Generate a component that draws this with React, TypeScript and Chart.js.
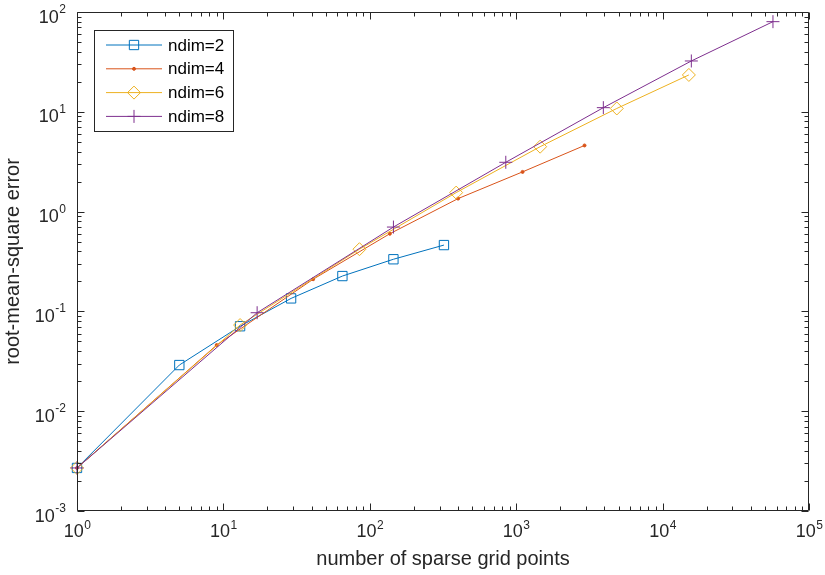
import React, { useEffect, useRef } from 'react';
import { Chart, registerables } from 'chart.js';
import { drawPoint } from 'chart.js/helpers';

Chart.register(...registerables);

// ---- data ----
const seriesNames = ['ndim=2', 'ndim=4', 'ndim=6', 'ndim=8'];
const x2 = [1, 5, 13, 29, 65, 145, 321];
const y2 = [0.0027, 0.029, 0.071, 0.135, 0.226, 0.333, 0.462];
const x4 = [1, 9, 41, 137, 401, 1105, 2929];
const y4 = [0.0027, 0.046, 0.21, 0.6, 1.35, 2.5, 4.6];
const x6 = [1, 13, 85, 389, 1457, 4865, 15121];
const y6 = [0.0027, 0.073, 0.42, 1.55, 4.47, 10.8, 23.4];
const x8 = [1, 17, 145, 849, 3937, 15713, 56737];
const y8 = [0.0027, 0.097, 0.7, 3.12, 11.0, 32.3, 80];
const xTickExps = [0, 1, 2, 3, 4, 5];
const yTickExps = [-3, -2, -1, 0, 1, 2];
const xLabel = 'number of sparse grid points';
const yLabel = 'root-mean-square error';

const colors = ['#0072BD', '#D95319', '#EDB120', '#7E2F8E'];
const axisColor = '#262626';
const FONT = '"Liberation Sans", Arial, Helvetica, sans-serif';

const toPts = (xs: number[], ys: number[]) => xs.map((x, i) => ({ x, y: ys[i] }));

const matlabAxes = {
  id: 'matlabAxes',
  afterDraw(chart: any) {
    const { ctx, chartArea: a, scales } = chart;
    const xs = scales.x;
    const ys = scales.y;
    ctx.save();
    ctx.strokeStyle = axisColor;
    ctx.lineWidth = 1;
    const L = Math.round(a.left) + 0.5;
    const R = Math.round(a.right) - 0.5;
    const T = Math.round(a.top) + 0.5;
    const B = Math.round(a.bottom) - 0.5;
    ctx.beginPath();
    ctx.rect(L, T, R - L, B - T);
    ctx.stroke();
    const major = 7;
    const minor = 4;
    ctx.beginPath();
    for (let i = 0; i < xTickExps.length; i++) {
      const e = xTickExps[i];
      for (let m = 1; m <= 9; m++) {
        if (m > 1 && i === xTickExps.length - 1) break;
        const v = m * Math.pow(10, e);
        const px = Math.round(xs.getPixelForValue(v)) + 0.5;
        const len = m === 1 ? major : minor;
        ctx.moveTo(px, B);
        ctx.lineTo(px, B - len);
        ctx.moveTo(px, T);
        ctx.lineTo(px, T + len);
      }
    }
    for (let i = 0; i < yTickExps.length; i++) {
      const e = yTickExps[i];
      for (let m = 1; m <= 9; m++) {
        if (m > 1 && i === yTickExps.length - 1) break;
        const v = m * Math.pow(10, e);
        const py = Math.round(ys.getPixelForValue(v)) + 0.5;
        const len = m === 1 ? major : minor;
        ctx.moveTo(L, py);
        ctx.lineTo(L + len, py);
        ctx.moveTo(R, py);
        ctx.lineTo(R - len, py);
      }
    }
    ctx.stroke();

    const baseFont = `18px ${FONT}`;
    const expFont = `12px ${FONT}`;
    ctx.fillStyle = axisColor;
    ctx.textBaseline = 'alphabetic';
    ctx.textAlign = 'left';
    xTickExps.forEach((e) => {
      const px = xs.getPixelForValue(Math.pow(10, e));
      ctx.font = baseFont;
      const w1 = ctx.measureText('10').width;
      ctx.font = expFont;
      const w2 = ctx.measureText(String(e)).width;
      const x0 = px - (w1 + w2) / 2;
      ctx.font = baseFont;
      ctx.fillText('10', x0, a.bottom + 26);
      ctx.font = expFont;
      ctx.fillText(String(e), x0 + w1 + 0.5, a.bottom + 18);
    });
    yTickExps.forEach((e) => {
      const py = ys.getPixelForValue(Math.pow(10, e));
      ctx.font = expFont;
      const w2 = ctx.measureText(String(e)).width;
      ctx.font = baseFont;
      const w1 = ctx.measureText('10').width;
      const xr = a.left - 11;
      ctx.fillText('10', xr - w2 - w1 - 0.5, py + 10.5);
      ctx.font = expFont;
      ctx.fillText(String(e), xr - w2, py + 1);
    });

    // legend
    const lx = 94.5, ly = 30.5, lw = 139, lh = 101;
    ctx.fillStyle = '#ffffff';
    ctx.fillRect(lx, ly, lw, lh);
    ctx.strokeStyle = axisColor;
    ctx.lineWidth = 1;
    ctx.strokeRect(lx, ly, lw, lh);
    chart.data.datasets.forEach((ds: any, i: number) => {
      const cy = 45 + i * 23.8;
      ctx.strokeStyle = ds.borderColor;
      ctx.lineWidth = 1;
      ctx.beginPath();
      ctx.moveTo(106, cy);
      ctx.lineTo(162, cy);
      ctx.stroke();
      ctx.fillStyle = ds.pointBackgroundColor;
      ctx.strokeStyle = ds.pointBorderColor;
      drawPoint(ctx, {
        pointStyle: ds.pointStyle,
        radius: ds.pointRadius,
        borderWidth: ds.pointBorderWidth,
        rotation: 0,
      } as any, 134, cy);
      ctx.fillStyle = '#000000';
      ctx.font = `17px ${FONT}`;
      ctx.textBaseline = 'middle';
      ctx.textAlign = 'left';
      ctx.fillText(ds.label, 168, cy + 1);
    });
    ctx.restore();
  },
};

export default function App() {
  const ref = useRef<HTMLCanvasElement>(null);
  useEffect(() => {
    const canvas = ref.current!;
    const mk = (i: number, xs: number[], ys: number[], style: string, radius: number, filled: boolean) => ({
      label: seriesNames[i],
      data: toPts(xs, ys),
      borderColor: colors[i],
      backgroundColor: colors[i],
      borderWidth: 1,
      pointStyle: style,
      pointRadius: radius,
      pointHoverRadius: radius,
      pointBorderWidth: 1,
      pointBorderColor: colors[i],
      pointBackgroundColor: filled ? colors[i] : 'rgba(0,0,0,0)',
      showLine: true,
      tension: 0,
      fill: false,
      clip: false,
      order: 3 - i,
    });
    const chart = new Chart(canvas, {
      type: 'line',
      data: {
        datasets: [
          mk(0, x2, y2, 'rect', 6.6, false),
          mk(1, x4, y4, 'circle', 1.5, true),
          mk(2, x6, y6, 'rectRot', 6.5, false),
          mk(3, x8, y8, 'cross', 6.5, false),
        ] as any,
      },
      options: {
        responsive: false,
        animation: false,
        devicePixelRatio: 1,
        layout: { padding: { left: 0, top: 12, right: 16, bottom: 0 } },
        plugins: { legend: { display: false }, tooltip: { enabled: false } },
        scales: {
          x: {
            type: 'logarithmic',
            min: 1,
            max: 100000,
            grid: { display: false },
            border: { display: false },
            ticks: { display: false, autoSkip: false },
            title: {
              display: true,
              text: xLabel,
              color: axisColor,
              font: { family: FONT, size: 20 },
              padding: { top: 0, bottom: 4 },
            },
            afterFit: (s: any) => {
              s.height = 64;
            },
          },
          y: {
            type: 'logarithmic',
            min: 0.001,
            max: 100,
            grid: { display: false },
            border: { display: false },
            ticks: { display: false, autoSkip: false },
            title: {
              display: true,
              text: yLabel,
              color: axisColor,
              font: { family: FONT, size: 20 },
              padding: { top: 1, bottom: 0 },
            },
            afterFit: (s: any) => {
              s.width = 77;
            },
          },
        },
      } as any,
      plugins: [matlabAxes],
    });
    return () => chart.destroy();
  }, []);
  return (
    <div style={{ position: 'fixed', left: 0, top: 0, width: 825, height: 575, background: '#ffffff' }}>
      <canvas ref={ref} width={825} height={575} style={{ width: 825, height: 575, display: 'block' }} />
    </div>
  );
}
